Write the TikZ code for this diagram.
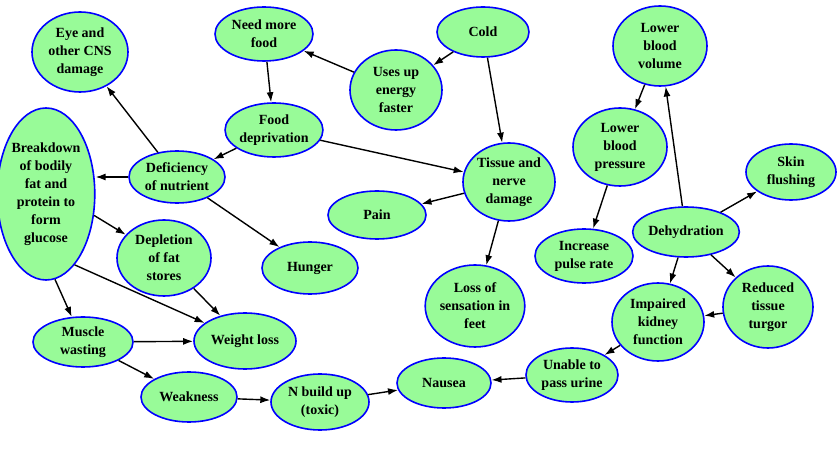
\documentclass[tikz,border=0pt]{standalone}
\usepackage{fontspec}
\setmainfont{Liberation Serif}
\usepackage{tikz}
\usetikzlibrary{arrows.meta,shapes.geometric}
\definecolor{sygreen}{RGB}{152,251,152}
\definecolor{syblue}{RGB}{0,0,255}
\tikzset{
  synode/.style={ellipse, draw=syblue, fill=sygreen, line width=1.6bp,
    align=center, inner sep=0pt,
    font=\fontsize{14bp}{18bp}\selectfont\bfseries},
  syarrow/.style={-{Latex[length=10bp,width=7bp]}, line width=1.4bp, draw=black}
}

\begin{document}
\begin{tikzpicture}[x=1bp,y=-1bp]
  \useasboundingbox (0,0) rectangle (840,456);
  \fill[white] (0,0) rectangle (840,456);
  \node[synode, minimum width=96bp, minimum height=80bp] (sEye) at (80,52) {Eye and\\other CNS\\damage};
  \node[synode, minimum width=98bp, minimum height=54bp] (sNeed) at (264,34) {Need more\\food};
  \node[synode, minimum width=90bp, minimum height=54bp] (sFood) at (274,130) {Food\\deprivation};
  \node[synode, minimum width=86bp, minimum height=172bp] (sBreak) at (46,194) {Breakdown\\of bodily\\fat and\\protein to\\form\\glucose};
  \node[synode, minimum width=96bp, minimum height=52bp] (sDef) at (177,177) {Deficiency\\of nutrient};
  \node[synode, minimum width=92bp, minimum height=80bp] (sUses) at (396,90) {Uses up\\energy\\faster};
  \node[synode, minimum width=92bp, minimum height=50bp] (sCold) at (483,32) {Cold};
  \node[synode, minimum width=92bp, minimum height=78bp] (sTissue) at (509,182) {Tissue and\\nerve\\damage};
  \node[synode, minimum width=98bp, minimum height=48bp] (sPain) at (377,215) {Pain};
  \node[synode, minimum width=94bp, minimum height=80bp] (sVol) at (660,46) {Lower\\blood\\volume};
  \node[synode, minimum width=94bp, minimum height=78bp] (sPres) at (620,147) {Lower\\blood\\pressure};
  \node[synode, minimum width=90bp, minimum height=56bp] (sSkin) at (791,172) {Skin\\flushing};
  \node[synode, minimum width=102bp, minimum height=50bp] (sDehyd) at (686,232) {Dehydration};
  \node[synode, minimum width=98bp, minimum height=54bp] (sPulse) at (584,256) {Increase\\pulse rate};
  \node[synode, minimum width=90bp, minimum height=82bp] (sTurgor) at (768,307) {Reduced\\tissue\\turgor};
  \node[synode, minimum width=92bp, minimum height=78bp] (sKidney) at (658,322) {Impaired\\kidney\\function};
  \node[synode, minimum width=92bp, minimum height=54bp] (sUrine) at (572,375) {Unable to\\pass urine};
  \node[synode, minimum width=94bp, minimum height=50bp] (sNausea) at (444,383) {Nausea};
  \node[synode, minimum width=98bp, minimum height=56bp] (sNbuild) at (320,402) {N build up\\(toxic)};
  \node[synode, minimum width=98bp, minimum height=82bp] (sLoss) at (475,306) {Loss of\\sensation in\\feet};
  \node[synode, minimum width=96bp, minimum height=52bp] (sHunger) at (310,268) {Hunger};
  \node[synode, minimum width=94bp, minimum height=76bp] (sDepl) at (164,258) {Depletion\\of fat\\stores};
  \node[synode, minimum width=100bp, minimum height=50bp] (sMuscle) at (83,342) {Muscle\\wasting};
  \node[synode, minimum width=102bp, minimum height=56bp] (sWeight) at (245,341) {Weight loss};
  \node[synode, minimum width=96bp, minimum height=50bp] (sWeak) at (189,397) {Weakness};
  \draw[syarrow] (sCold) -- (sUses);
  \draw[syarrow] (sCold) -- (sTissue);
  \draw[syarrow] (sUses) -- (sNeed);
  \draw[syarrow] (sNeed) -- (sFood);
  \draw[syarrow] (sFood) -- (sDef);
  \draw[syarrow] (sFood) -- (sTissue);
  \draw[syarrow] (sDef) -- (sEye);
  \draw[syarrow] (sDef.west) -- (sDef.west -| sBreak.east);
  \draw[syarrow] (sDef) -- (sHunger);
  \draw[syarrow] (sBreak.-24) -- (sDepl);
  \draw[syarrow] (sBreak.-68) -- (sWeight);
  \draw[syarrow] (sBreak.-84) -- (sMuscle);
  \draw[syarrow] (sDepl) -- (sWeight);
  \draw[syarrow] (sMuscle) -- (sWeight);
  \draw[syarrow] (sMuscle) -- (sWeak);
  \draw[syarrow] (sWeak) -- (sNbuild);
  \draw[syarrow] (sNbuild) -- (sNausea);
  \draw[syarrow] (sUrine) -- (sNausea);
  \draw[syarrow] (sTissue) -- (sPain);
  \draw[syarrow] (sTissue) -- (sLoss);
  \draw[syarrow] (sVol) -- (sPres);
  \draw[syarrow] (sPres) -- (sPulse);
  \draw[syarrow] (sDehyd) -- (sVol);
  \draw[syarrow] (sDehyd) -- (sSkin);
  \draw[syarrow] (sDehyd) -- (sTurgor);
  \draw[syarrow] (sDehyd) -- (sKidney);
  \draw[syarrow] (sTurgor) -- (sKidney);
  \draw[syarrow] (sKidney) -- (sUrine);
\end{tikzpicture}
\end{document}
